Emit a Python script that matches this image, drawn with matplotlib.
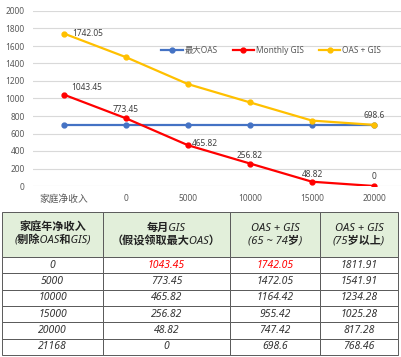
import matplotlib
matplotlib.use('Agg')
import matplotlib.pyplot as plt

plt.rcParams['font.family'] = ['Noto Sans', 'Noto Sans CJK SC', 'DejaVu Sans']

# chart data
categories = ['家庭净收入', '0', '5000', '10000', '15000', '20000']
oas_max = [698.6, 698.6, 698.6, 698.6, 698.6, 698.6]
monthly_gis = [1043.45, 773.45, 465.82, 256.82, 48.82, 0]
oas_plus_gis = [1742.05, 1472.05, 1164.42, 955.42, 747.42, 698.6]

# table data
table_header = ['家庭年净收入\n(剔除OAS和GIS)', '每月GIS\n（假设领取最大OAS）',
                'OAS + GIS\n(65 ~ 74岁)', 'OAS + GIS\n(75岁以上)']
income = ['0', '5000', '10000', '15000', '20000', '21168']
gis_col = ['1043.45', '773.45', '465.82', '256.82', '48.82', '0']
young_col = ['1742.05', '1472.05', '1164.42', '955.42', '747.42', '698.6']
old_col = ['1811.91', '1541.91', '1234.28', '1025.28', '817.28', '768.46']

fig = plt.figure(figsize=(4.01, 3.57), dpi=100)
ax = fig.add_axes([33 / 401, (357 - 186) / 357, 372 / 401, 175 / 357])

x = list(range(len(categories)))
ax.plot(x, oas_max, color='#4472C4', lw=1.6, marker='o', ms=3.5, label='最大OAS')
ax.plot(x, monthly_gis, color='#FF0000', lw=1.6, marker='o', ms=3.5, label='Monthly GIS')
ax.plot(x, oas_plus_gis, color='#FFC000', lw=1.6, marker='o', ms=3.5, label='OAS + GIS')

ax.set_xlim(-0.5, 5.5)
ax.set_ylim(0, 2000)
ax.set_yticks(range(0, 2001, 200))
ax.set_xticks(x)
ax.set_xticklabels(categories)
ax.tick_params(length=0, labelsize=6, colors='#595959')
ax.tick_params(axis='y', pad=6)
ax.tick_params(axis='x', pad=6)
ax.get_xticklabels()[0].set_fontsize(7)
ax.grid(axis='y', color='#d9d9d9', lw=0.8)
ax.set_axisbelow(True)
for s in ax.spines.values():
    s.set_visible(False)

lab = dict(fontsize=6, color='#404040', textcoords='offset points')
ax.annotate('1742.05', (0, oas_plus_gis[0]), xytext=(6, 0), ha='left', va='center', **lab)
ax.annotate('1043.45', (0, monthly_gis[0]), xytext=(5, 5), ha='left', va='center', **lab)
ax.annotate('773.45', (1, monthly_gis[1]), xytext=(0, 6), ha='center', va='center', **lab)
ax.annotate('465.82', (2, monthly_gis[2]), xytext=(3, 1), ha='left', va='center', **lab)
ax.annotate('256.82', (3, monthly_gis[3]), xytext=(0, 5.5), ha='center', va='center', **lab)
ax.annotate('48.82', (4, monthly_gis[4]), xytext=(0, 5.5), ha='center', va='center', **lab)
ax.annotate('0', (5, monthly_gis[5]), xytext=(0, 7), ha='center', va='center', **lab)
ax.annotate('698.6', (5, oas_plus_gis[5]), xytext=(0, 6.5), ha='center', va='center', **lab)

ax.legend(loc='center', bbox_to_anchor=(0.64, 0.777), ncol=3, frameon=False,
          fontsize=6, handlelength=2.6, columnspacing=1.8, handletextpad=0.2,
          labelcolor='#595959')

# table
tax = fig.add_axes([2 / 401, 2 / 357, 396 / 401, 143 / 357])
tax.axis('off')
rows = [list(r) for r in zip(income, gis_col, young_col, old_col)]
col_w = [101, 127, 90, 78]
tbl = tax.table(cellText=rows, colLabels=table_header, colWidths=[w / 396 for w in col_w],
                cellLoc='center', bbox=[0, 0, 1, 1])
tbl.auto_set_font_size(False)
for (r, c), cell in tbl.get_celld().items():
    cell.set_edgecolor('#5a5a5a')
    cell.set_linewidth(0.7)
    t = cell.get_text()
    if r == 0:
        cell.set_height(45)
        cell.set_facecolor('#E2EFDA')
        t.set_fontsize(8)
        t.set_fontweight('bold')
        t.set_fontstyle('italic')
        t.set_color('#222222')
        t.set_linespacing(1.15)
    else:
        cell.set_height(16.3)
        t.set_fontsize(7.5)
        t.set_fontstyle('italic')
        t.set_color('#333333')
        if r == 1 and c in (1, 2):
            t.set_color('#FF0000')
            t.set_fontweight('bold')

fig.savefig('out.png', dpi=100)
